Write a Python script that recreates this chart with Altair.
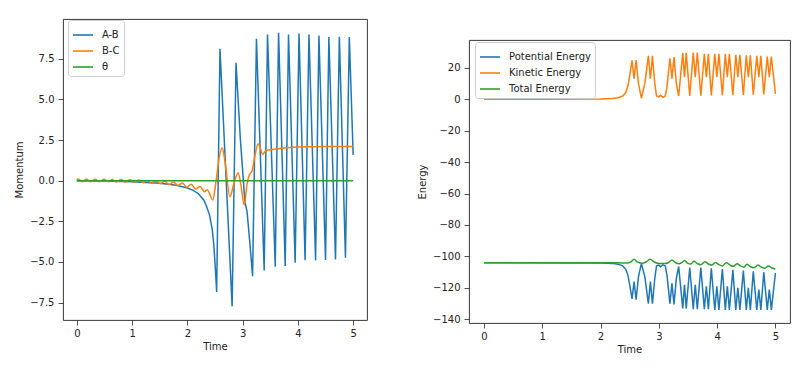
import altair as alt
import pandas as pd

# ---------------- Left panel: Momentum vs Time ----------------
ab_t = [0.0, 0.5, 1.0, 1.5, 1.8, 2.0, 2.1, 2.2, 2.3, 2.35, 2.4, 2.45, 2.48, 2.51, 2.53,
        2.59, 2.81, 2.88, 2.96, 3.04, 3.08, 3.13, 3.18,
        3.25, 3.39, 3.45, 3.59, 3.65, 3.77, 3.83, 3.95, 4.02, 4.13, 4.20, 4.32,
        4.38, 4.50, 4.56, 4.68, 4.75, 4.86, 4.93, 5.0]
ab_v = [0.0, -0.02, -0.06, -0.15, -0.28, -0.45, -0.58, -0.8, -1.2, -1.6, -2.1, -3.0, -4.0, -5.6, -6.85,
        8.12, -7.73, 7.26, 2.5, -1.25, -1.9, -3.8, -5.87,
        8.74, -5.52, 9.0, -5.29, 9.1, -5.25, 9.0, -5.05, 9.05, -4.9, 9.0, -4.9,
        8.94, -4.88, 8.84, -4.84, 8.86, -4.74, 8.84, 1.58]

bc_t = [0.0, 0.02, 0.10, 0.175, 0.25, 0.33, 0.41, 0.49, 0.57, 0.645, 0.72, 0.80, 0.88, 0.96,
        1.04, 1.12, 1.20, 1.275, 1.35, 1.43, 1.51, 1.59, 1.67, 1.75, 1.83, 1.91, 1.99,
        2.07, 2.15, 2.23, 2.31, 2.36, 2.46,
        2.52, 2.57, 2.63, 2.68, 2.77, 2.84, 2.92, 2.97, 3.03, 3.08, 3.12, 3.17, 3.22,
        3.28, 3.32, 3.36, 3.42, 3.5, 3.6, 3.8, 4.0, 4.5, 5.0]
bc_v = [0.05, 0.10, -0.06, 0.10, -0.07, 0.09, -0.07, 0.09, -0.07, 0.08, -0.08, 0.07, -0.09, 0.06,
        -0.10, 0.04, -0.12, 0.02, -0.15, 0.0, -0.18, -0.04, -0.24, -0.08, -0.30, -0.14, -0.40,
        -0.22, -0.52, -0.35, -0.68, -0.55, -1.19,
        0.0, 1.3, 2.03, 1.2, -0.98, -0.2, 0.49, -0.3, -1.5, -0.2, 0.35, 0.6, 1.5,
        2.28, 2.0, 1.62, 1.85, 1.9, 1.95, 2.03, 2.07, 2.1, 2.1]

th_t = [0.0, 1.0, 2.0, 3.0, 4.0, 5.0]
th_v = [0.0, 0.0, 0.0, 0.0, 0.0, 0.0]

# ---------------- Right panel: Energy vs Time ----------------
pe_t = [0.0, 2.0, 2.2, 2.3, 2.38, 2.43, 2.47, 2.50, 2.54, 2.575, 2.61, 2.65, 2.70, 2.76,
        2.82, 2.855, 2.89, 2.93, 2.96, 3.0, 3.03, 3.07, 3.11, 3.14, 3.19, 3.225, 3.26,
        3.30, 3.34, 3.41, 3.44, 3.47, 3.53, 3.59, 3.625, 3.66, 3.72, 3.78, 3.815, 3.85,
        3.90, 3.96, 3.995, 4.03, 4.09, 4.14, 4.175, 4.21, 4.27, 4.32, 4.355, 4.39, 4.45,
        4.50, 4.535, 4.57, 4.62, 4.68, 4.715, 4.75, 4.80, 4.86, 4.895, 4.93, 5.0]
pe_v = [-104.0, -104.1, -104.4, -104.9, -106.0, -108.0, -112.0, -118.0, -127.0, -116.0, -127.5,
        -113.0, -104.5, -113.0, -130.0, -116.0, -130.0, -114.0, -106.0, -105.5, -106.5, -105.3,
        -106.0, -112.0, -130.0, -117.0, -130.5, -114.0, -106.5, -133.0, -118.0, -133.0, -107.0,
        -133.5, -118.0, -133.5, -107.0, -133.5, -119.0, -133.5, -107.5, -134.0, -119.0, -134.0,
        -108.0, -134.0, -119.0, -134.0, -108.5, -134.0, -120.0, -134.0, -109.0, -134.0, -120.0,
        -134.0, -109.5, -134.0, -121.0, -134.0, -110.0, -134.0, -121.0, -134.0, -110.5]

ke_t = [0.0, 1.0, 2.0, 2.2, 2.3, 2.38, 2.43, 2.47, 2.50, 2.54, 2.575, 2.61, 2.65, 2.70, 2.76,
        2.82, 2.855, 2.89, 2.93, 2.96, 3.0, 3.03, 3.07, 3.11, 3.14, 3.19, 3.225, 3.26, 3.30,
        3.34, 3.41, 3.44, 3.47, 3.53, 3.59, 3.625, 3.66, 3.72, 3.78, 3.815, 3.85, 3.90, 3.96,
        3.995, 4.03, 4.09, 4.14, 4.175, 4.21, 4.27, 4.32, 4.355, 4.39, 4.45, 4.50, 4.535,
        4.57, 4.62, 4.68, 4.715, 4.75, 4.80, 4.86, 4.895, 4.93, 5.0]
ke_v = [0.0, 0.0, 0.1, 0.4, 0.9, 2.0, 4.0, 8.5, 15.0, 24.6, 13.0, 24.8, 10.0, 0.6, 10.0,
        27.5, 13.0, 27.5, 10.0, 2.0, 1.5, 2.5, 1.2, 2.0, 8.0, 26.0, 13.0, 26.7, 10.0,
        2.0, 29.4, 14.0, 29.4, 2.0, 29.6, 14.0, 29.6, 2.2, 28.8, 14.0, 28.8, 2.3, 28.8,
        14.0, 28.8, 2.3, 28.8, 14.0, 28.8, 2.5, 28.2, 14.0, 28.2, 2.6, 27.8, 14.0,
        27.8, 2.8, 27.5, 14.0, 27.5, 3.0, 27.1, 14.0, 27.1, 3.4]

te_t = [0.0, 2.3, 2.45, 2.52, 2.575, 2.63, 2.70, 2.78, 2.85, 2.92, 3.0, 3.1, 3.16, 3.225,
        3.29, 3.34, 3.39, 3.44, 3.49, 3.55, 3.60, 3.66, 3.72, 3.79, 3.85, 3.91, 3.97, 4.03,
        4.09, 4.16, 4.22, 4.28, 4.34, 4.40, 4.46, 4.51, 4.57, 4.63, 4.70, 4.76, 4.82, 4.88,
        4.94, 5.0]
te_v = [-104.0, -104.0, -104.2, -103.5, -101.8, -103.5, -104.3, -103.5, -101.8, -103.5,
        -104.5, -104.5, -104.0, -102.3, -104.0, -104.6, -104.0, -102.5, -104.2, -104.8,
        -103.0, -104.5, -105.2, -103.3, -104.8, -105.5, -103.8, -105.2, -106.0, -104.0,
        -105.5, -106.3, -104.6, -106.0, -106.8, -105.0, -106.4, -107.2, -105.5, -106.8,
        -107.5, -106.0, -107.3, -108.0]

left_names = ["A-B", "B-C", "θ"]
right_names = ["Potential Energy", "Kinetic Energy", "Total Energy"]
colors = ["#1f77b4", "#ff7f0e", "#2ca02c"]

FONT = "DejaVu Sans"
INK = "#222222"


def frame(series):
    rows = []
    for name, ts, vs in series:
        for t, v in zip(ts, vs):
            rows.append({"series": name, "Time": t, "value": v})
    return pd.DataFrame(rows)


left_df = frame([("A-B", ab_t, ab_v), ("B-C", bc_t, bc_v), ("θ", th_t, th_v)])
right_df = frame([("Potential Energy", pe_t, pe_v), ("Kinetic Energy", ke_t, ke_v),
                  ("Total Energy", te_t, te_v)])


def panel(df, names, smooth, ytitle, ydomain, yticks, yformat, xdomain, width, height, lx, ly):
    legend = alt.Legend(
        title=None, orient="none", legendX=lx, legendY=ly, padding=4,
        symbolType="stroke", symbolSize=400, symbolStrokeWidth=1.6,
        labelFont=FONT, labelFontSize=10, labelColor=INK, labelOffset=8,
        rowPadding=0, strokeColor="#cccccc", fillColor="white", cornerRadius=3,
    )
    color = alt.Color("series:N", scale=alt.Scale(domain=names, range=colors),
                      legend=legend, title=None)
    x = alt.X("Time:Q", title="Time",
              scale=alt.Scale(domain=xdomain, nice=False, zero=False),
              axis=alt.Axis(values=[0, 1, 2, 3, 4, 5], format="d", grid=False, domain=False,
                            tickSize=5, tickColor=INK, tickWidth=0.8, labelPadding=3,
                            titlePadding=3, labelFont=FONT, labelFontSize=10, labelColor=INK,
                            titleFont=FONT, titleFontSize=10, titleFontWeight="normal",
                            titleColor=INK))
    y = alt.Y("value:Q", title=ytitle,
              scale=alt.Scale(domain=ydomain, nice=False, zero=False),
              axis=alt.Axis(values=yticks, format=yformat, grid=False, domain=False,
                            tickSize=5, tickColor=INK, tickWidth=0.8, labelPadding=4,
                            titlePadding=5, labelFont=FONT, labelFontSize=10, labelColor=INK,
                            titleFont=FONT, titleFontSize=10, titleFontWeight="normal",
                            titleColor=INK))
    layers = []
    for n in names:
        interp = "monotone" if n in smooth else "linear"
        layers.append(
            alt.Chart(df)
            .transform_filter(alt.FieldEqualPredicate(field="series", equal=n))
            .mark_line(strokeWidth=1.5, interpolate=interp)
            .encode(x=x, y=y, color=color)
        )
    return alt.layer(*layers).properties(width=width, height=height)


left = panel(left_df, left_names, ["B-C"], "Momentum", [-8.57, 9.95],
             [-7.5, -5.0, -2.5, 0.0, 2.5, 5.0, 7.5], ".1f", [-0.25, 5.25], 304, 301, 5, 1)
right = panel(right_df, right_names, ["Total Energy"], "Energy", [-142.3, 37.6],
              [-140, -120, -100, -80, -60, -40, -20, 0, 20], "d", [-0.257, 5.25], 321, 283, 6, 2)

# invisible spacer that pushes the right panel down
spacer = (
    alt.Chart(pd.DataFrame({"s": [0]}))
    .mark_point(opacity=0)
    .encode(x=alt.X("s:Q", axis=None), y=alt.Y("s:Q", axis=None))
    .properties(width=1, height=20, view=alt.ViewBackground(strokeOpacity=0))
)
right_col = (
    alt.vconcat(spacer, right, spacing=0)
    .resolve_scale(color="independent")
    .resolve_legend(color="independent")
)

chart = (
    alt.hconcat(left, right_col, spacing=49)
    .resolve_scale(color="independent")
    .resolve_legend(color="independent")
    .properties(padding={"left": 6, "top": 10, "right": 0, "bottom": 0},
                background="white")
    .configure_view(stroke="#222222", strokeWidth=0.9)
)

chart.save("out.html", embed_options={"renderer": "svg", "actions": False})
